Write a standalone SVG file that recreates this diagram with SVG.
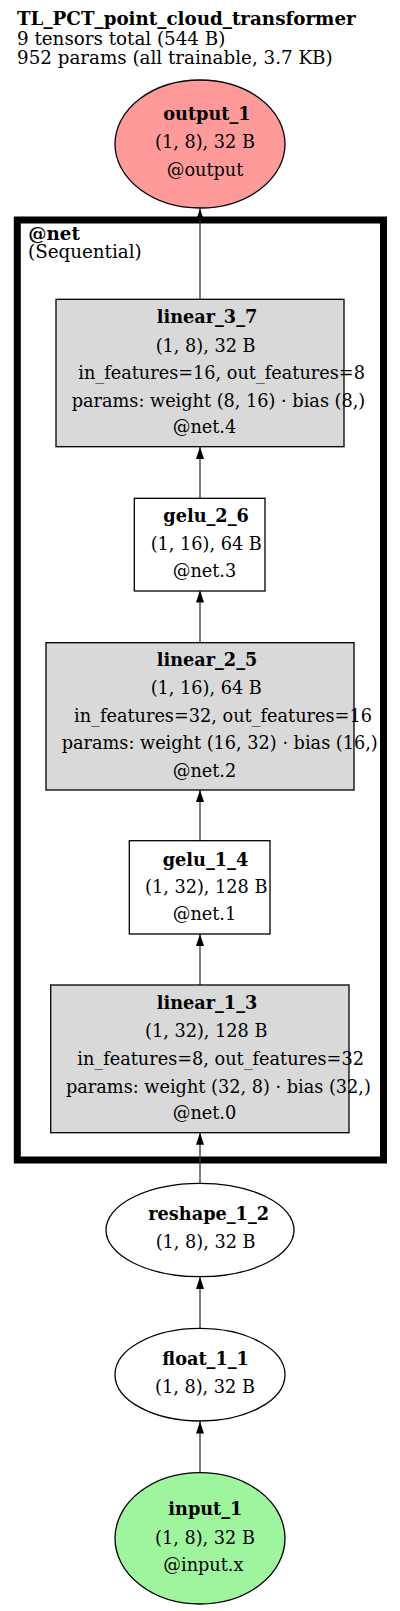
<svg xmlns="http://www.w3.org/2000/svg" width="400" height="1611" viewBox="0 0 400 1611">
<defs>
<marker id="ah" viewBox="0 0 12 8" refX="12" refY="4" markerWidth="12" markerHeight="8" markerUnits="userSpaceOnUse" orient="auto">
<path d="M0,0 L12,4 L0,8 Z" fill="#000"/>
</marker>
<style>
text{font-family:"DejaVu Serif","Liberation Serif",serif;font-size:17.7px;fill:#000}
.t{font-size:18.3px}
.c{font-size:18.3px}
.b{font-weight:bold}
.box{stroke:#000;stroke-width:1.3}
.lin{fill:#d9d9d9}
.wht{fill:#fff}
.edge{stroke:#333;stroke-width:1.3;fill:none;marker-end:url(#ah)}
</style>
</defs>
<rect width="400" height="1611" fill="#fff"/>
<g id="title">
<text x="17" y="25" class="t b">TL_PCT_point_cloud_transformer</text>
<text x="17" y="45" class="t">9 tensors total (544 B)</text>
<text x="17" y="64" class="t">952 params (all trainable, 3.7 KB)</text>
</g>
<g id="cluster_net">
<rect x="17.3" y="220" width="366.2" height="940" fill="none" stroke="#000" stroke-width="7"/>
<text x="28.3" y="240" class="c b">@net</text>
<text x="28" y="258" class="c">(Sequential)</text>
</g>
<g id="edges">
<line class="edge" x1="200" y1="299" x2="200" y2="208.5"/>
<line class="edge" x1="200" y1="498" x2="200" y2="447"/>
<line class="edge" x1="200" y1="642.7" x2="200" y2="590.5"/>
<line class="edge" x1="200" y1="840.7" x2="200" y2="790"/>
<line class="edge" x1="200" y1="985" x2="200" y2="934"/>
<line class="edge" x1="200" y1="1183.3" x2="200" y2="1132.7"/>
<line class="edge" x1="200" y1="1328.3" x2="200" y2="1277"/>
<line class="edge" x1="200" y1="1472.7" x2="200" y2="1421.5"/>
</g>
<g id="output_1">
<ellipse cx="200" cy="144" rx="85" ry="64" fill="#ff9a9a" class="box"/>
<text x="163.3" y="120" class="b">output_1</text>
<text x="155" y="148">(1, 8), 32 B</text>
<text x="166.7" y="176">@output</text>
</g>
<g id="linear_3_7">
<rect x="56" y="299.3" width="288" height="147.4" class="box lin"/>
<text x="156.7" y="323.3" class="b">linear_3_7</text>
<text x="155.7" y="351.7">(1, 8), 32 B</text>
<text x="78.3" y="379">in_features=16, out_features=8</text>
<text x="71.7" y="406.7">params: weight (8, 16) · bias (8,)</text>
<text x="172.7" y="433.3">@net.4</text>
</g>
<g id="gelu_2_6">
<rect x="134.3" y="498.3" width="130.7" height="92.7" class="box wht"/>
<text x="163.3" y="522.3" class="b">gelu_2_6</text>
<text x="150.7" y="550">(1, 16), 64 B</text>
<text x="172.7" y="577.3">@net.3</text>
</g>
<g id="linear_2_5">
<rect x="46" y="642.7" width="308" height="147.3" class="box lin"/>
<text x="156.7" y="666" class="b">linear_2_5</text>
<text x="150.7" y="694">(1, 16), 64 B</text>
<text x="74" y="721.7">in_features=32, out_features=16</text>
<text x="61.7" y="749.3">params: weight (16, 32) · bias (16,)</text>
<text x="172.7" y="776.7">@net.2</text>
</g>
<g id="gelu_1_4">
<rect x="129.3" y="840.7" width="140.7" height="93.3" class="box wht"/>
<text x="162.7" y="866" class="b">gelu_1_4</text>
<text x="145" y="892.7">(1, 32), 128 B</text>
<text x="172.7" y="920">@net.1</text>
</g>
<g id="linear_1_3">
<rect x="50.7" y="985" width="298.3" height="147.7" class="box lin"/>
<text x="156.7" y="1009.3" class="b">linear_1_3</text>
<text x="145" y="1037.3">(1, 32), 128 B</text>
<text x="77.3" y="1065">in_features=8, out_features=32</text>
<text x="66" y="1092.7">params: weight (32, 8) · bias (32,)</text>
<text x="172.7" y="1119.3">@net.0</text>
</g>
<g id="reshape_1_2">
<ellipse cx="200" cy="1230" rx="94" ry="46.7" class="box wht"/>
<text x="148.3" y="1220" class="b">reshape_1_2</text>
<text x="155.7" y="1248.3">(1, 8), 32 B</text>
</g>
<g id="float_1_1">
<ellipse cx="200" cy="1374.7" rx="85" ry="46.3" class="box wht"/>
<text x="162.3" y="1365" class="b">float_1_1</text>
<text x="155" y="1393.3">(1, 8), 32 B</text>
</g>
<g id="input_1">
<ellipse cx="200" cy="1538.3" rx="85" ry="65.7" fill="#9ef59e" class="box"/>
<text x="168.3" y="1515" class="b">input_1</text>
<text x="155" y="1544">(1, 8), 32 B</text>
<text x="163.3" y="1570.7">@input.x</text>
</g>
</svg>
